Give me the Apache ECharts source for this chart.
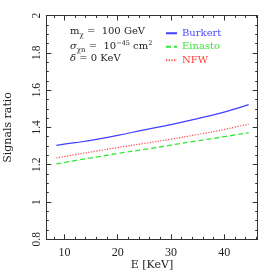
<!DOCTYPE html>
<html>
<head>
<meta charset="utf-8">
<script src="https://cdn.jsdelivr.net/npm/echarts@6/dist/echarts.min.js"></script>
<style>html,body{margin:0;padding:0;background:#fff}#c{width:273px;height:273px}</style>
</head>
<body>
<div id="c"></div>
<script>
// ---- data ----
var energies = [8.5, 12, 16, 20, 25, 30, 35, 40, 44.6];
var burkert  = [1.304, 1.318, 1.336, 1.357, 1.387, 1.415, 1.447, 1.482, 1.522];
var nfw      = [1.236, 1.254, 1.273, 1.292, 1.314, 1.337, 1.362, 1.389, 1.418];
var einasto  = [1.204, 1.222, 1.241, 1.260, 1.282, 1.305, 1.328, 1.350, 1.372];
var seriesNames = ['Burkert', 'Einasto', 'NFW'];
// ---- ticks ----
var xMajorTicks = [10, 20, 30, 40];
var xMinorTicks = [8, 12, 14, 16, 18, 22, 24, 26, 28, 32, 34, 36, 38, 42, 44, 46];
var yMajorTicks = [0.8, 1, 1.2, 1.4, 1.6, 1.8, 2];
var yMinorTicks = [0.85, 0.9, 0.95, 1.05, 1.1, 1.15, 1.25, 1.3, 1.35, 1.45, 1.5, 1.55, 1.65, 1.7, 1.75, 1.85, 1.9, 1.95];

var FONT = 'Liberation Serif';
var TFONT = 'DejaVu Serif';
var AX = '#333';
var TX = '#222';
var X_MIN = 6.6, X_MAX = 46.3, Y_MIN = 0.8, Y_MAX = 2;

function xAxisDef(pos, ticks, len, labels, line) {
  return {
    type: 'value', position: pos, min: X_MIN, max: X_MAX,
    axisLine: {show: line, lineStyle: {color: AX, width: 1}},
    axisTick: {show: true, inside: true, length: len, customValues: ticks, lineStyle: {color: AX, width: 1}},
    axisLabel: labels ? {show: true, customValues: ticks, margin: 8, fontFamily: FONT, fontSize: 12, color: TX} : {show: false},
    splitLine: {show: false}
  };
}
function yAxisDef(pos, ticks, len, labels, line) {
  return {
    type: 'value', position: pos, min: Y_MIN, max: Y_MAX,
    axisLine: {show: line, lineStyle: {color: AX, width: 1}},
    axisTick: {show: true, inside: true, length: len, customValues: ticks, lineStyle: {color: AX, width: 1}},
    axisLabel: labels ? {show: true, customValues: ticks, rotate: 90, margin: 3.5, fontFamily: FONT, fontSize: 11.5, color: TX,
      formatter: function (v) { return String(+(+v).toFixed(2)); }} : {show: false},
    splitLine: {show: false}
  };
}

var xAxes = [
  xAxisDef('bottom', xMajorTicks, 5, true, true),
  xAxisDef('bottom', xMinorTicks, 2.5, false, false),
  xAxisDef('top', xMajorTicks, 5, false, true),
  xAxisDef('top', xMinorTicks, 2.5, false, false)
];
xAxes[0].name = 'E [KeV]';
xAxes[0].nameLocation = 'middle';
xAxes[0].nameGap = 20;
xAxes[0].nameMoveOverlap = false;
xAxes[0].nameTextStyle = {fontFamily: TFONT, fontSize: 11, color: TX};

var yAxes = [
  yAxisDef('left', yMajorTicks, 5, true, true),
  yAxisDef('left', yMinorTicks, 2.5, false, false),
  yAxisDef('right', yMajorTicks, 5, false, true),
  yAxisDef('right', yMinorTicks, 2.5, false, false)
];
yAxes[0].name = 'Signals ratio';
yAxes[0].nameLocation = 'middle';
yAxes[0].nameGap = 32.5;
yAxes[0].nameMoveOverlap = false;
yAxes[0].nameTextStyle = {fontFamily: TFONT, fontSize: 11, color: TX};

function pairs(ys) { return energies.map(function (e, i) { return [e, ys[i]]; }); }

var T = {fontFamily: TFONT, fontSize: 10, lineHeight: 14, fill: TX};
var TI = {fontFamily: TFONT, fontStyle: 'italic', fontSize: 10, lineHeight: 14, fill: TX};
var SUB = {fontFamily: TFONT, fontSize: 7, lineHeight: 6, verticalAlign: 'bottom', fill: TX};
var SUP = {fontFamily: TFONT, fontSize: 6.5, lineHeight: 7, verticalAlign: 'top', fill: TX};

var chart = echarts.init(document.getElementById('c'), null, {renderer: 'canvas'});
chart.setOption({
  animation: false,
  backgroundColor: '#fff',
  grid: {left: 46.3, right: 15.3, top: 15.5, bottom: 33.7, containLabel: false, outerBoundsMode: 'none'},
  xAxis: xAxes,
  yAxis: yAxes,
  legend: {
    orient: 'vertical', left: 165, top: 26.5, padding: 0,
    itemWidth: 11, itemHeight: 8, itemGap: 0,
    itemStyle: {opacity: 0},
    textStyle: {fontFamily: TFONT, fontSize: 10, lineHeight: 13.5},
    data: [
      {name: seriesNames[0], textStyle: {color: '#4a4aff'}},
      {name: seriesNames[1], textStyle: {color: '#3fe33f'}},
      {name: seriesNames[2], textStyle: {color: '#ff3c3c'}}
    ]
  },
  graphic: [
    {type: 'text', left: 70, top: 26.5, style: {
      text: '{t|m}{s|χ}{t| =  100 GeV}', rich: {t: T, s: SUB}}},
    {type: 'text', left: 70, top: 39.5, style: {
      text: '{i|σ}{s|χn}{t| =  10}{p|−45}{t| cm}{p|2}', rich: {t: T, i: TI, s: SUB, p: SUP}}},
    {type: 'text', left: 70, top: 53.5, style: {
      text: '{i|δ}{t| = 0 KeV}', rich: {t: T, i: TI}}}
  ],
  series: [
    {name: seriesNames[0], type: 'line', xAxisIndex: 0, yAxisIndex: 0, data: pairs(burkert), smooth: true, symbol: 'none',
      itemStyle: {color: '#4040ff'}, lineStyle: {color: '#4040ff', width: 1.2, type: 'solid'}},
    {name: seriesNames[1], type: 'line', xAxisIndex: 0, yAxisIndex: 0, data: pairs(einasto), smooth: true, symbol: 'none',
      itemStyle: {color: '#33e633'}, lineStyle: {color: '#33e633', width: 1.3, type: [5, 3]}},
    {name: seriesNames[2], type: 'line', xAxisIndex: 0, yAxisIndex: 0, data: pairs(nfw), smooth: true, symbol: 'none',
      itemStyle: {color: '#ff4040'}, lineStyle: {color: '#ff4040', width: 1.2, type: [1.2, 1.5]}}
  ]
});
</script>
</body>
</html>
